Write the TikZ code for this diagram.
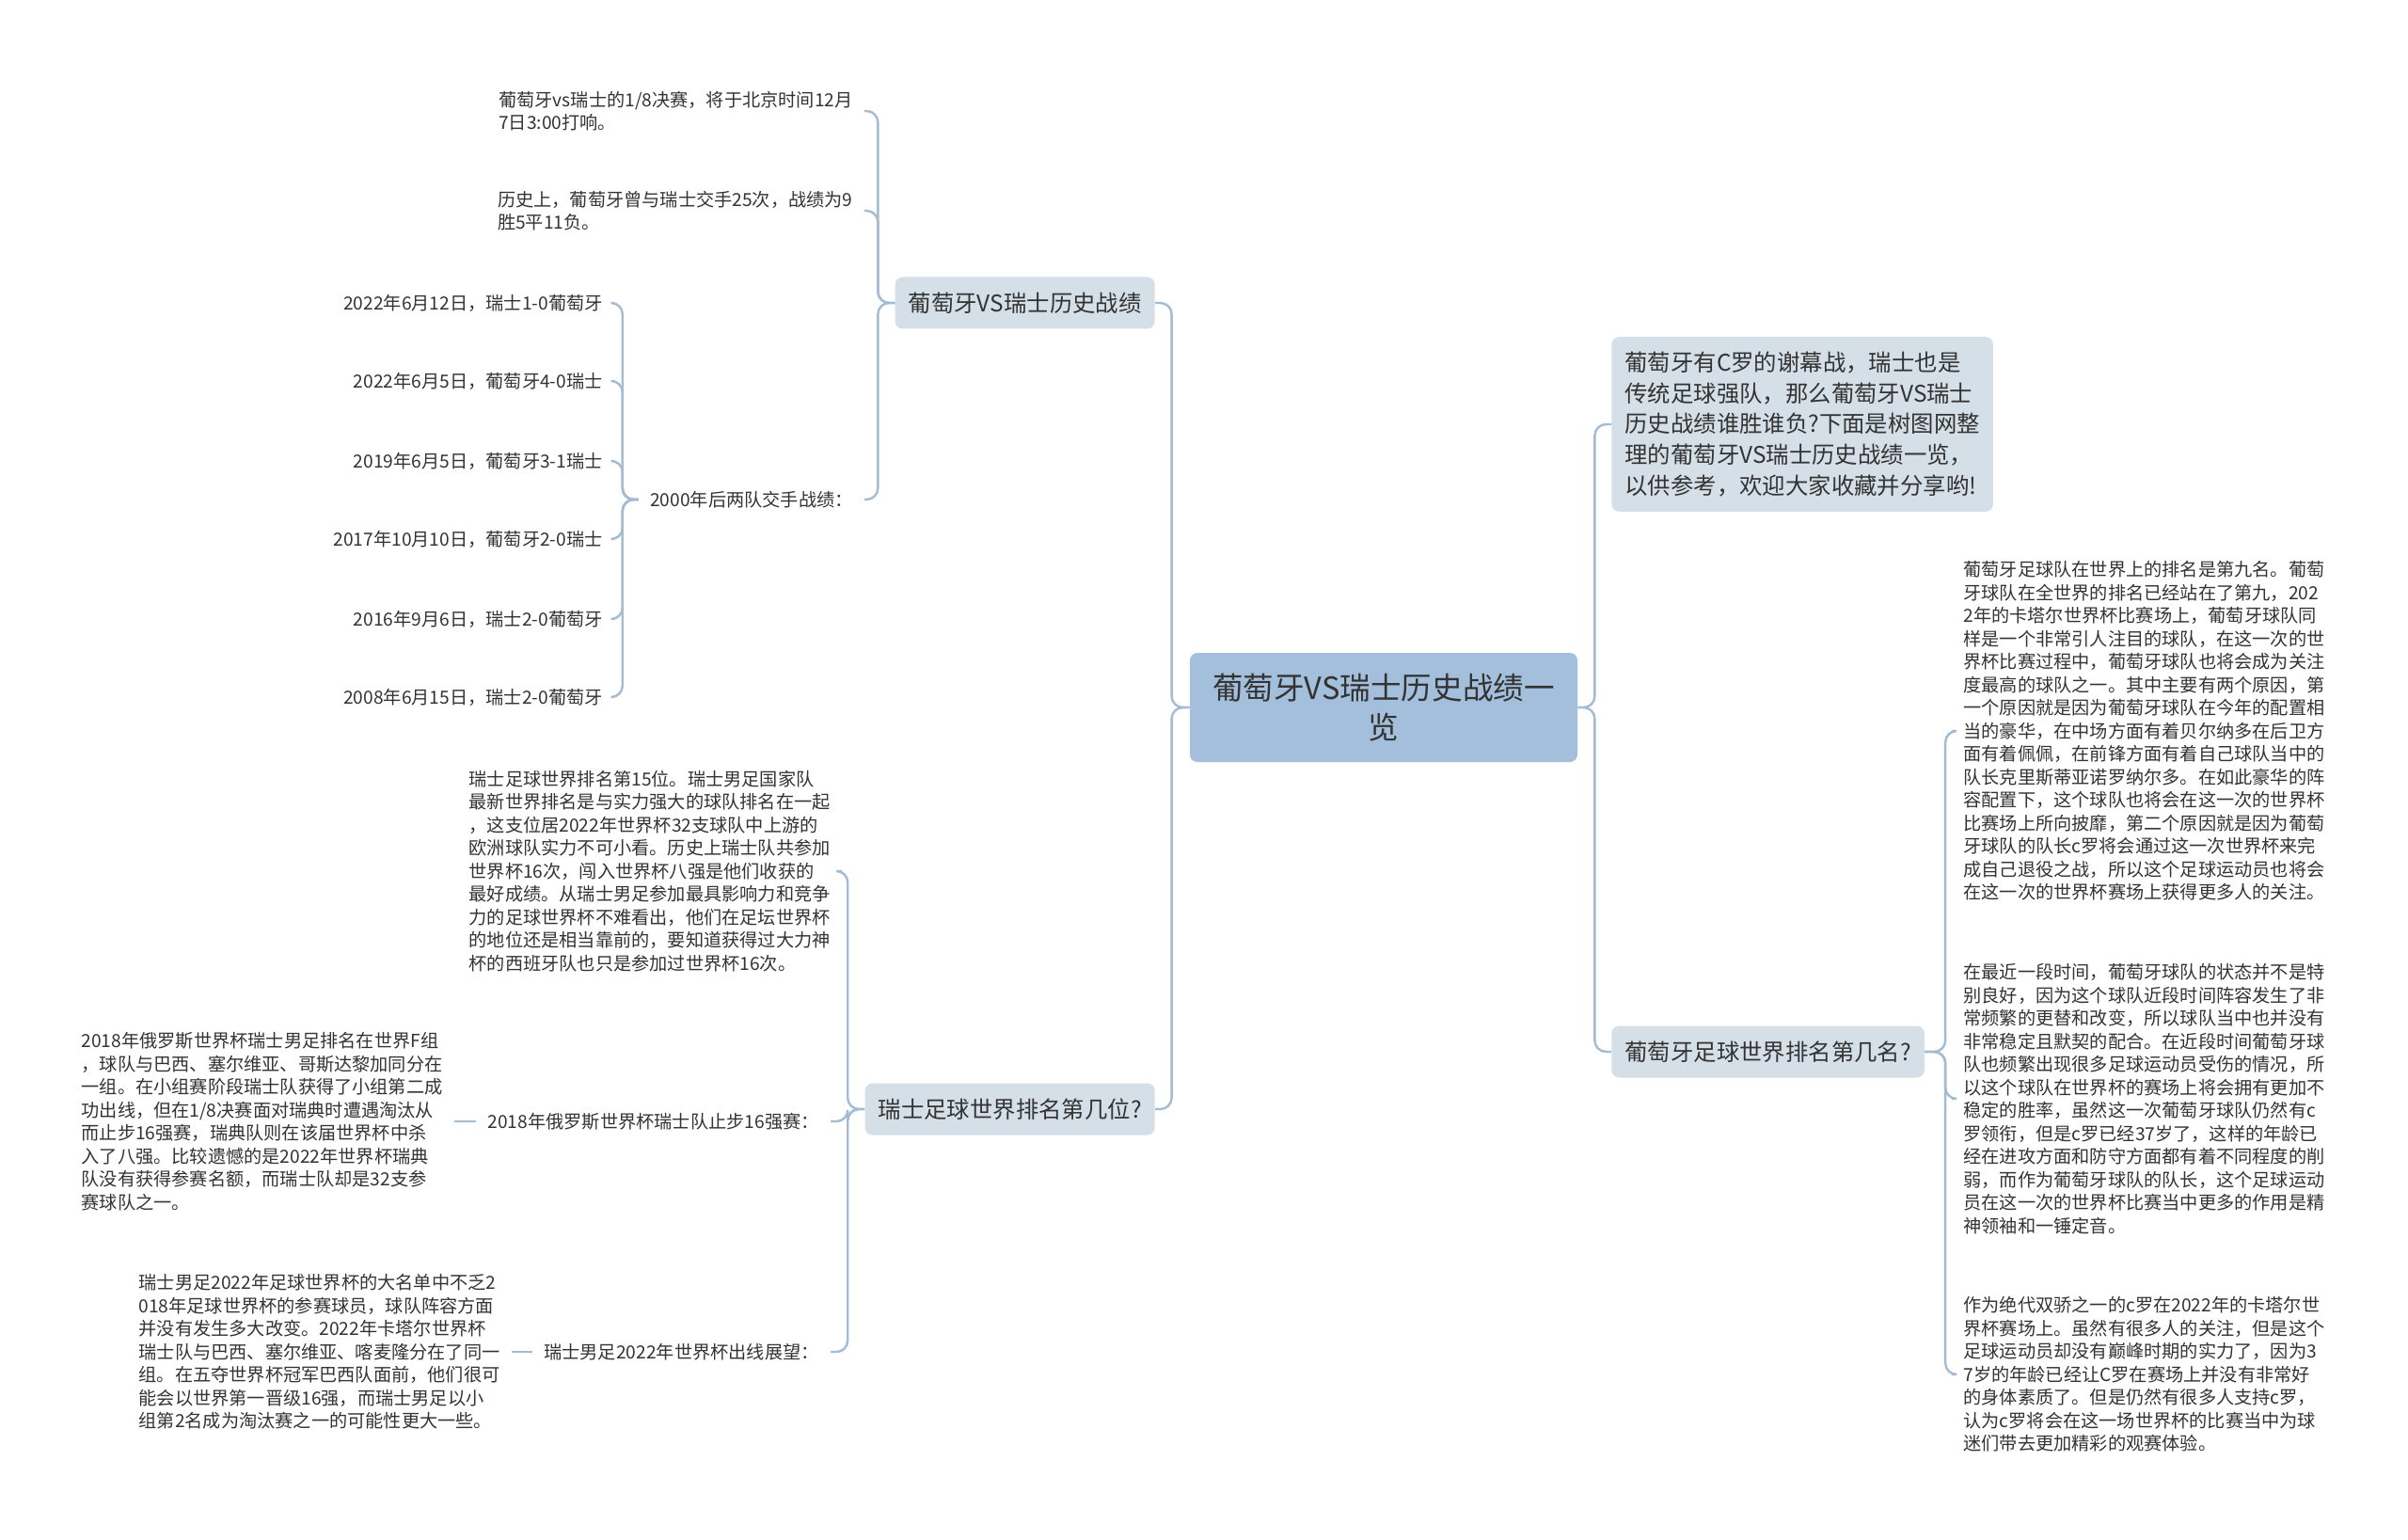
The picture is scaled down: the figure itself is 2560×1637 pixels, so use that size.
\documentclass[tikz,border=0pt]{standalone}
\usepackage{fontspec}
\setmainfont{Noto Sans CJK SC}
\usepackage{xcolor}
\usepackage{tikz}
\usetikzlibrary{positioning}

\definecolor{rootblue}{HTML}{A3BFDB}
\definecolor{topicgray}{HTML}{D4DFE8}
\definecolor{linkblue}{HTML}{A3BBD3}
\definecolor{inkgray}{HTML}{333333}

\begin{document}
\begin{tikzpicture}[
    x=0.5pt, y=-0.5pt,
    root/.style={fill=rootblue, rounded corners=4pt, align=center, text=inkgray,
                 minimum width=206pt, minimum height=58pt,
                 font=\fontsize{16.3}{21.2}\selectfont},
    topic/.style={fill=topicgray, rounded corners=4pt, align=left, text=inkgray,
                  inner xsep=7pt, inner ysep=6pt, minimum height=27.5pt,
                  font=\fontsize{12.2}{16.3}\selectfont},
    note/.style={align=left, inner xsep=6pt, inner ysep=3pt, text=inkgray,
                 font=\fontsize{9.6}{12.25}\selectfont},
    link/.style={draw=linkblue, line width=1.2pt, rounded corners=6pt}
  ]
    \fill[white] (0,0) rectangle (2560,1637);
    \useasboundingbox (0,0) rectangle (2560,1637);

    \node[root] (root) at (1471,752) {葡萄牙VS瑞士历史战绩一\\览};

    \node[topic, anchor=east] (hist) at (1228,322) {葡萄牙VS瑞士历史战绩};
    \node[topic, anchor=east] (rank) at (1228,1179) {瑞士足球世界排名第几位?};
    \node[topic, anchor=west, inner ysep=8pt] (intro) at (1713,451)
      {葡萄牙有C罗的谢幕战，瑞士也是\\传统足球强队，那么葡萄牙VS瑞士\\历史战绩谁胜谁负?下面是树图网整\\理的葡萄牙VS瑞士历史战绩一览，\\以供参考，欢迎大家收藏并分享哟!};
    \node[topic, anchor=west] (porank) at (1713,1118) {葡萄牙足球世界排名第几名?};

    \draw[link] (root.west) -- ++(-19,0) |- (hist.east);
    \draw[link] (root.west) -- ++(-19,0) |- (rank.east);
    \draw[link] (root.east) -- ++(18,0) |- (intro.west);
    \draw[link] (root.east) -- ++(18,0) |- (porank.west);

    \node[note, anchor=east] (hmatch) at (919,118)
      {葡萄牙vs瑞士的1/8决赛，将于北京时间12月\\7日3:00打响。};
    \node[note, anchor=east] (hrec) at (919,224)
      {历史上，葡萄牙曾与瑞士交手25次，战绩为9\\胜5平11负。};
    \node[note, anchor=east] (hsince) at (919,531) {2000年后两队交手战绩：};

    \draw[link] (hist.west) -- ++(-18,0) |- (hmatch.east);
    \draw[link] (hist.west) -- ++(-18,0) |- (hrec.east);
    \draw[link] (hist.west) -- ++(-18,0) |- (hsince.east);

    \foreach \i/\yy/\txt in {1/322/{2022年6月12日，瑞士1-0葡萄牙},
                             2/405/{2022年6月5日，葡萄牙4-0瑞士},
                             3/490/{2019年6月5日，葡萄牙3-1瑞士},
                             4/573/{2017年10月10日，葡萄牙2-0瑞士},
                             5/658/{2016年9月6日，瑞士2-0葡萄牙},
                             6/741/{2008年6月15日，瑞士2-0葡萄牙}} {
      \node[note, anchor=east] (game\i) at (653,\yy) {\txt};
      \draw[link] (hsince.west) -- ++(-17,0) |- (game\i.east);
    }

    \node[note, anchor=east] (rpos) at (895,926)
      {瑞士足球世界排名第15位。瑞士男足国家队\\最新世界排名是与实力强大的球队排名在一起\\，这支位居2022年世界杯32支球队中上游的\\欧洲球队实力不可小看。历史上瑞士队共参加\\世界杯16次，闯入世界杯八强是他们收获的\\最好成绩。从瑞士男足参加最具影响力和竞争\\力的足球世界杯不难看出，他们在足坛世界杯\\的地位还是相当靠前的，要知道获得过大力神\\杯的西班牙队也只是参加过世界杯16次。};
    \node[note, anchor=east] (r18) at (883,1192) {2018年俄罗斯世界杯瑞士队止步16强赛：};
    \node[note, anchor=east] (r22) at (883,1437) {瑞士男足2022年世界杯出线展望：};

    \draw[link] (rank.west) -- ++(-18,0) |- (rpos.east);
    \draw[link] (rank.west) -- ++(-18,0) |- (r18.east);
    \draw[link] (rank.west) -- ++(-18,0) |- (r22.east);

    \node[note, anchor=east] (r18txt) at (483,1192)
      {2018年俄罗斯世界杯瑞士男足排名在世界F组\\，球队与巴西、塞尔维亚、哥斯达黎加同分在\\一组。在小组赛阶段瑞士队获得了小组第二成\\功出线，但在1/8决赛面对瑞典时遭遇淘汰从\\而止步16强赛，瑞典队则在该届世界杯中杀\\入了八强。比较遗憾的是2022年世界杯瑞典\\队没有获得参赛名额，而瑞士队却是32支参\\赛球队之一。};
    \node[note, anchor=east] (r22txt) at (544,1437)
      {瑞士男足2022年足球世界杯的大名单中不乏2\\018年足球世界杯的参赛球员，球队阵容方面\\并没有发生多大改变。2022年卡塔尔世界杯\\瑞士队与巴西、塞尔维亚、喀麦隆分在了同一\\组。在五夺世界杯冠军巴西队面前，他们很可\\能会以世界第一晋级16强，而瑞士男足以小\\组第2名成为淘汰赛之一的可能性更大一些。};

    \draw[link] (r18.west) -- (r18txt.east);
    \draw[link] (r22.west) -- (r22txt.east);

    \node[note, anchor=west] (pnine) at (2075,777)
      {葡萄牙足球队在世界上的排名是第九名。葡萄\\牙球队在全世界的排名已经站在了第九，202\\2年的卡塔尔世界杯比赛场上，葡萄牙球队同\\样是一个非常引人注目的球队，在这一次的世\\界杯比赛过程中，葡萄牙球队也将会成为关注\\度最高的球队之一。其中主要有两个原因，第\\一个原因就是因为葡萄牙球队在今年的配置相\\当的豪华，在中场方面有着贝尔纳多在后卫方\\面有着佩佩，在前锋方面有着自己球队当中的\\队长克里斯蒂亚诺罗纳尔多。在如此豪华的阵\\容配置下，这个球队也将会在这一次的世界杯\\比赛场上所向披靡，第二个原因就是因为葡萄\\牙球队的队长c罗将会通过这一次世界杯来完\\成自己退役之战，所以这个足球运动员也将会\\在这一次的世界杯赛场上获得更多人的关注。};
    \node[note, anchor=west] (pform) at (2075,1168)
      {在最近一段时间，葡萄牙球队的状态并不是特\\别良好，因为这个球队近段时间阵容发生了非\\常频繁的更替和改变，所以球队当中也并没有\\非常稳定且默契的配合。在近段时间葡萄牙球\\队也频繁出现很多足球运动员受伤的情况，所\\以这个球队在世界杯的赛场上将会拥有更加不\\稳定的胜率，虽然这一次葡萄牙球队仍然有c\\罗领衔，但是c罗已经37岁了，这样的年龄已\\经在进攻方面和防守方面都有着不同程度的削\\弱，而作为葡萄牙球队的队长，这个足球运动\\员在这一次的世界杯比赛当中更多的作用是精\\神领袖和一锤定音。};
    \node[note, anchor=west] (pstar) at (2075,1461)
      {作为绝代双骄之一的c罗在2022年的卡塔尔世\\界杯赛场上。虽然有很多人的关注，但是这个\\足球运动员却没有巅峰时期的实力了，因为3\\7岁的年龄已经让C罗在赛场上并没有非常好\\的身体素质了。但是仍然有很多人支持c罗，\\认为c罗将会在这一场世界杯的比赛当中为球\\迷们带去更加精彩的观赛体验。};

    \draw[link] (porank.east) -- ++(22,0) |- (pnine.west);
    \draw[link] (porank.east) -- ++(22,0) |- (pform.west);
    \draw[link] (porank.east) -- ++(22,0) |- (pstar.west);
\end{tikzpicture}
\end{document}
